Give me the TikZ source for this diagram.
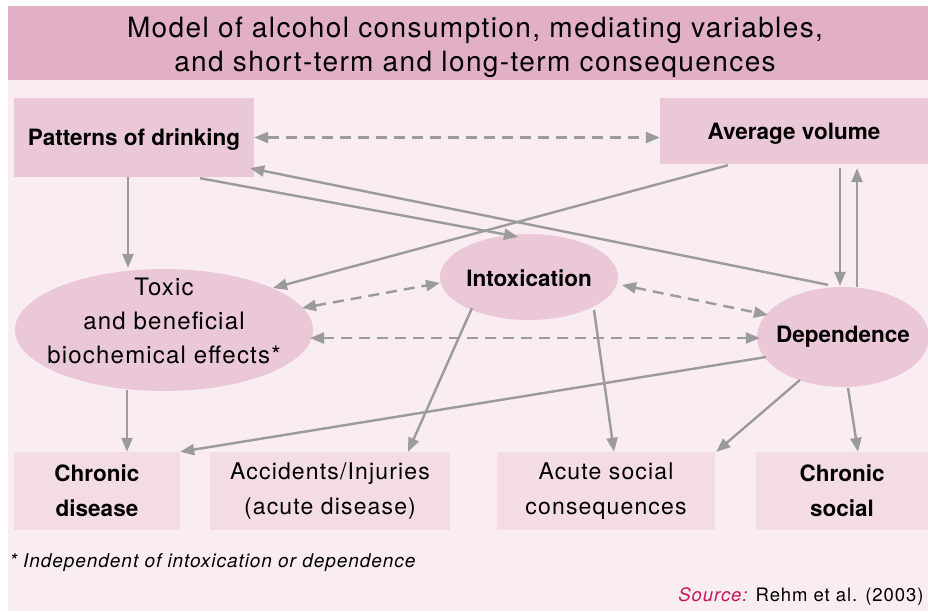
\documentclass[tikz,border=0pt]{standalone}
\usepackage{fontspec}
\setmainfont[LetterSpace=5]{TeX Gyre Heros}
\newfontfamily\boldfam[LetterSpace=0]{TeX Gyre Heros}
\usetikzlibrary{arrows.meta,shapes.geometric,calc}
\definecolor{band}{HTML}{E2B0C6}
\definecolor{bg}{HTML}{F9EDF2}
\definecolor{nodefill}{HTML}{EBC8D8}
\definecolor{outfill}{HTML}{F3DCE6}
\definecolor{arrowgray}{HTML}{9B9B9B}
\definecolor{srcmag}{HTML}{C2185B}
\begin{document}
\begin{tikzpicture}[x=1pt,y=-1pt,
  boldtext/.style={font=\boldfam\bfseries\fontsize{22.5}{35}\selectfont},
  box/.style={rectangle, fill=nodefill, inner sep=0pt, align=center, boldtext, text height=16pt, text depth=0pt},
  outbox/.style={rectangle, fill=outfill, inner sep=0pt, align=center, minimum height=78pt, font=\fontsize{23}{35}\selectfont},
  ell/.style={ellipse, fill=nodefill, inner sep=0pt},
  arr/.style={draw=arrowgray, line width=2.4pt, -{Triangle[length=14pt,width=11pt]}},
  darr/.style={draw=arrowgray, line width=2.4pt, dash pattern=on 11pt off 7pt, {Triangle[length=14pt,width=11pt]}-{Triangle[length=14pt,width=11pt]}}
]
\useasboundingbox (0,0) rectangle (928,611);
\fill[white] (0,0) rectangle (928,611);
\fill[bg] (8,80) rectangle (928,611);
\fill[band] (8,6) rectangle (928,80);
\node[align=center, font=\fontsize{28}{34}\selectfont] (title) at (475,47) {Model of alcohol consumption, mediating variables,\\and short-term and long-term consequences};

\node[box, minimum width=240pt, minimum height=79pt] (pat) at (134,137.5) {Patterns of drinking};
\node[box, minimum width=268pt, minimum height=66pt] (avg) at (794,131) {Average volume};
\node[ell, minimum width=298pt, minimum height=122pt,
  label={[align=center, font=\fontsize{24}{34}\selectfont, yshift=9pt]center:Toxic\\and beneficial\\biochemical effects*}] (tox) at (164,330) {};
\node[ell, minimum width=178pt, minimum height=86pt,
  label={[boldtext, yshift=-1pt]center:Intoxication}] (intox) at (529,277) {};
\node[ell, minimum width=172pt, minimum height=100pt,
  label={[boldtext]center:Dependence}] (dep) at (843,337) {};

\node[outbox, minimum width=166pt, boldtext] (chd) at (97,491) {Chronic\\disease};
\node[outbox, minimum width=240pt] (acc) at (330,491) {Accidents/Injuries\\(acute disease)};
\node[outbox, minimum width=218pt] (acs) at (606,491) {Acute social\\consequences};
\node[outbox, minimum width=172pt, boldtext] (chs) at (842,491) {Chronic\\social};

\node[anchor=west, font=\itshape\fontsize{19}{22}\selectfont] (note) at (6,563) {* Independent of intoxication or dependence};
\node[anchor=east, font=\fontsize{18.5}{22}\selectfont] (src) at (927,597) {\textcolor{srcmag}{\itshape Source:} Rehm et al. (2003)};

% connectors
\draw[arr] ($(pat.south)+(-6,0)$) -- ($(tox.north)+(-36,-1)$);
\draw[darr] (pat.east) -- (pat.east -| avg.west);
\draw[arr] ($(pat.south)+(66,1)$) -- ($(intox.north)+(-11,3)$);
\draw[arr] ($(dep.north)+(-15,-2)$) -- ($(pat.south east)+(-4,-9)$);
\draw[arr] ($(avg.south)+(-66,1)$) -- ($(tox.center)+(109,-42)$);
\draw[arr] ($(avg.south)+(46,4)$) -- ($(dep.north)+(-3,-1)$);
\draw[arr] ($(dep.north)+(14,0)$) -- ($(avg.south)+(63,4)$);
\draw[darr] ($(tox.center)+(138,-22)$) -- ($(intox.center)+(-89,6)$);
\draw[darr] ($(tox.center)+(146,8)$) -- ($(dep.west)+(3,1)$);
\draw[darr] ($(intox.center)+(93,8)$) -- ($(dep.center)+(-75,-22)$);
\draw[arr] ($(tox.center)+(-37,60)$) -- ($(chd.north)+(30,0)$);
\draw[arr] ($(intox.center)+(-57,31)$) -- ($(acc.north)+(78,0)$);
\draw[arr] ($(intox.center)+(65,33)$) -- ($(acs.north)+(8,0)$);
\draw[arr] ($(dep.center)+(-77,20)$) -- (chd.north east);
\draw[arr] ($(dep.center)+(-43,43)$) -- ($(acs.north east)+(1,0)$);
\draw[arr] ($(dep.center)+(5,51)$) -- ($(chs.north)+(16,0)$);
\end{tikzpicture}
\end{document}
